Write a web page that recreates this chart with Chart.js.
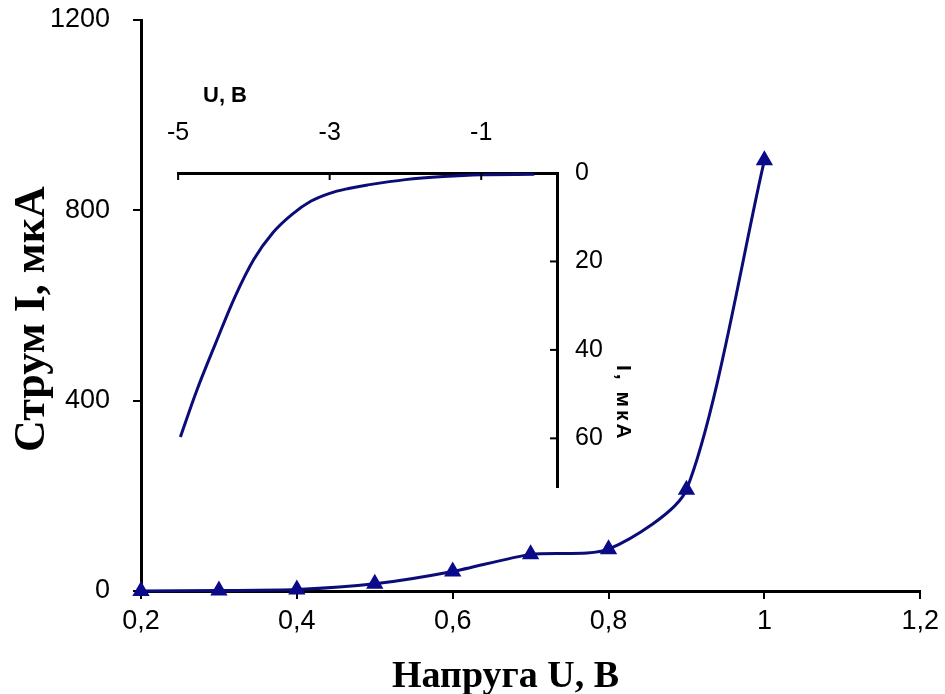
<!DOCTYPE html>
<html><head><meta charset="utf-8">
<script src="https://cdn.jsdelivr.net/npm/chart.js@4/dist/chart.umd.min.js"></script>
<style>
html,body{margin:0;padding:0;background:#fff;}
#wrap{position:relative;width:945px;height:694px;overflow:hidden;background:#fff;}
#main{position:absolute;left:0;top:0;}
#inset{position:absolute;left:150px;top:60px;}
.ttl{position:absolute;font-family:'Liberation Sans',Arial,sans-serif;font-weight:bold;color:#000;white-space:nowrap;line-height:1;}
#mainX{left:392px;top:655px;font-family:'Liberation Serif','Times New Roman',serif;font-size:38px;}
#mainY{left:8px;top:452px;font-family:'Liberation Serif','Times New Roman',serif;font-size:44px;transform-origin:0 0;transform:rotate(-90deg);}
#insetX{left:203px;top:84px;font-size:22px;}
#insetY{left:614px;top:365px;font-size:21px;letter-spacing:3px;writing-mode:vertical-rl;}
</style></head><body>
<div id="wrap">
<canvas id="main" width="945" height="694"></canvas>
<canvas id="inset" width="500" height="440"></canvas>
<div class="ttl" id="mainX">Напруга U, В</div>
<div class="ttl" id="mainY">Струм I, мкА</div>
<div class="ttl" id="insetX">U, В</div>
<div class="ttl" id="insetY">I, мкА</div>
</div>
<script>
// Main chart data
const voltage = [0.2, 0.3, 0.4, 0.5, 0.6, 0.7, 0.8, 0.9, 1.0];
const current = [0, 1, 3, 15, 41, 77, 88, 213, 905];
const xTicks = [0.2, 0.4, 0.6, 0.8, 1.0, 1.2];
const yTicks = [0, 400, 800, 1200];

// Inset (reverse branch) data
const insetVoltage = [-4.97, -4.75, -4.5, -4.25, -4.0, -3.75, -3.5, -3.25, -3.0, -2.75, -2.5, -2.0, -1.5, -1.0, -0.3];
const insetCurrent = [59.7, 49, 38.3, 28, 19.5, 13.5, 9.4, 6.4, 4.6, 3.5, 2.7, 1.5, 0.8, 0.4, 0.3];
const insetXTicks = [-5, -3, -1];
const insetYTicks = [0, 20, 40, 60];

const LINE = '#0c0c78';
const MARK = '#0a0a8a';
const tickFont = {family: "'Liberation Sans', Arial, sans-serif", size: 27};
const insetFont = {family: "'Liberation Sans', Arial, sans-serif", size: 25};
const fmt = v => String(v).replace('.', ',');

new Chart(document.getElementById('main'), {
  type: 'line',
  data: {
    datasets: [{
      data: voltage.map((v, i) => ({x: v, y: current[i]})),
      borderColor: LINE,
      borderWidth: 3,
      backgroundColor: MARK,
      pointBackgroundColor: MARK,
      pointBorderColor: MARK,
      pointStyle: 'triangle',
      pointRadius: 7,
      tension: 0.25,
      clip: false
    }]
  },
  options: {
    responsive: false,
    animation: false,
    devicePixelRatio: 1,
    layout: {padding: {left: 0, right: 24, top: 20, bottom: 0}},
    plugins: {legend: {display: false}, tooltip: {enabled: false}},
    scales: {
      x: {
        type: 'linear', min: 0.2, max: 1.2,
        afterBuildTicks: s => { s.ticks = xTicks.map(v => ({value: v})); },
        afterFit: s => { s.height = 103; },
        ticks: {font: tickFont, color: '#000', padding: 6, callback: v => fmt(v), maxRotation: 0},
        grid: {display: true, drawOnChartArea: false, tickLength: 8, color: '#000', lineWidth: 2},
        border: {color: '#000', width: 3}
      },
      y: {
        type: 'linear', min: 0, max: 1200,
        afterBuildTicks: s => { s.ticks = yTicks.map(v => ({value: v})); },
        afterFit: s => { s.width = 141; s.paddingTop = 0; s.paddingBottom = 0; },
        ticks: {font: tickFont, color: '#000', padding: 23, callback: v => fmt(v)},
        grid: {display: true, drawOnChartArea: false, tickLength: 8, color: '#000', lineWidth: 2},
        border: {color: '#000', width: 3}
      }
    }
  }
});

const insetTicksPlugin = {
  id: 'insetTicks',
  afterDraw(chart) {
    const {ctx, scales: {x, y}} = chart;
    ctx.save();
    ctx.strokeStyle = '#000';
    ctx.lineWidth = 2;
    x.ticks.forEach(t => {
      const px = x.getPixelForValue(t.value);
      ctx.beginPath(); ctx.moveTo(px, y.top); ctx.lineTo(px, y.top + 7); ctx.stroke();
    });
    y.ticks.forEach(t => {
      if (t.value === 0) return;
      const py = y.getPixelForValue(t.value);
      ctx.beginPath(); ctx.moveTo(x.right, py); ctx.lineTo(x.right - 7, py); ctx.stroke();
    });
    ctx.restore();
  }
};

new Chart(document.getElementById('inset'), {
  type: 'line',
  data: {
    datasets: [{
      data: insetVoltage.map((v, i) => ({x: v, y: insetCurrent[i]})),
      borderColor: LINE,
      borderWidth: 3,
      pointRadius: 0,
      tension: 0.35,
      clip: false
    }]
  },
  plugins: [insetTicksPlugin],
  options: {
    responsive: false,
    animation: false,
    devicePixelRatio: 1,
    layout: {padding: {left: 17, right: 0, top: 0, bottom: 13}},
    plugins: {legend: {display: false}, tooltip: {enabled: false}},
    scales: {
      x: {
        type: 'linear', position: 'top', min: -5, max: 0,
        afterBuildTicks: s => { s.ticks = insetXTicks.map(v => ({value: v})); },
        afterFit: s => { s.height = 113; },
        ticks: {font: insetFont, color: '#000', padding: 17, maxRotation: 0, callback: v => String(v)},
        grid: {display: false},
        border: {display: true, color: '#000', width: 3}
      },
      y: {
        type: 'linear', position: 'right', reverse: true, min: 0, max: 71,
        afterBuildTicks: s => { s.ticks = insetYTicks.map(v => ({value: v})); },
        afterFit: s => { s.width = 93; s.paddingTop = 0; s.paddingBottom = 0; },
        ticks: {font: insetFont, color: '#000', padding: 10, callback: v => String(v)},
        grid: {display: false},
        border: {display: true, color: '#000', width: 3}
      }
    }
  }
});
</script>
</body></html>
